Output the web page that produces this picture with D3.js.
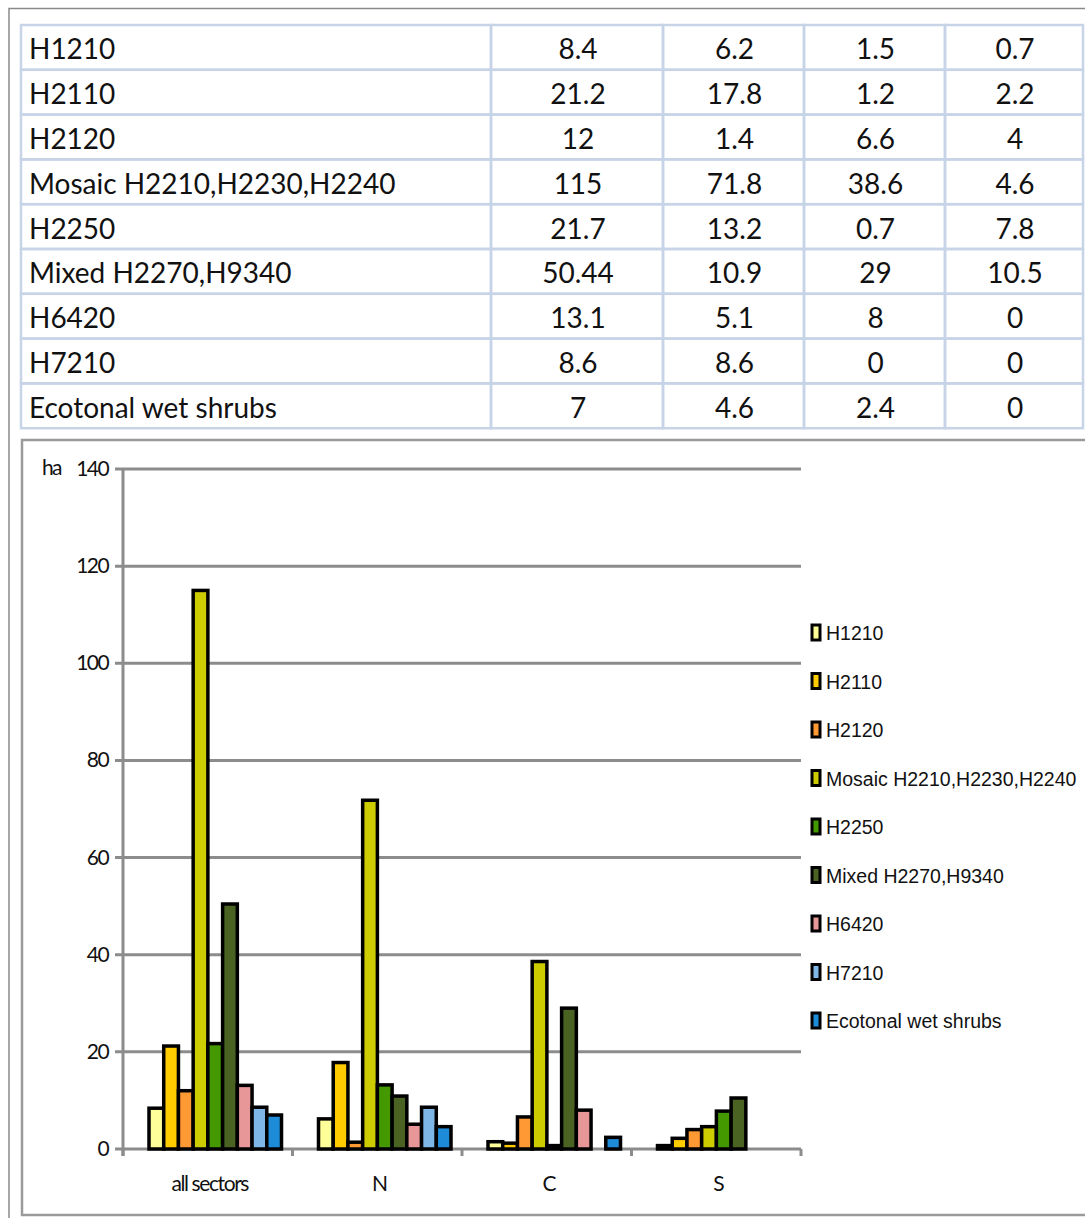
<!DOCTYPE html>
<html>
<head>
<meta charset="utf-8">
<script src="https://cdn.jsdelivr.net/npm/d3@7"></script>
<style>
  html, body { margin: 0; padding: 0; background: #fff; }
  svg { display: block; }
</style>
</head>
<body>
<svg id="chart" width="1085" height="1218"></svg>
<script>
// habitat types (rows of the table, series of the chart)
const habitats = [
  "H1210", "H2110", "H2120", "Mosaic H2210,H2230,H2240", "H2250",
  "Mixed H2270,H9340", "H6420", "H7210", "Ecotonal wet shrubs"
];
const sectors = ["all sectors", "N", "C", "S"];

// surface in ha per sector
const allSectorsValues = [8.4, 21.2, 12, 115, 21.7, 50.44, 13.1, 8.6, 7];
const northValues = [6.2, 17.8, 1.4, 71.8, 13.2, 10.9, 5.1, 8.6, 4.6];
const centreValues = [1.5, 1.2, 6.6, 38.6, 0.7, 29, 8, 0, 2.4];
const southValues = [0.7, 2.2, 4, 4.6, 7.8, 10.5, 0, 0, 0];

const yTicks = [0, 20, 40, 60, 80, 100, 120, 140];

const habitatColors = [
  "#ffff99", "#ffcc00", "#ff9933", "#cccc00", "#449900",
  "#4a6322", "#e89799", "#7fb6e8", "#1e8bd9"
];

const sectorValues = [allSectorsValues, northValues, centreValues, southValues];

const svg = d3.select("#chart");

// outer frame
svg.append("path")
  .attr("d", "M9,1218 V8.5 H1085")
  .attr("fill", "none")
  .attr("stroke", "#8a8a8a")
  .attr("stroke-width", 1.5);

// ---------- table ----------
const colEdges = [21, 491, 663, 804, 945, 1083];
const rowTop = 25, rowH = 44.8;
const table = svg.append("g");

const tableRows = habitats.map((h, i) => [h].concat(sectorValues.map(s => String(s[i]))));

// cell borders
const border = "#c7d4e8";
tableRows.forEach((row, r) => {
  row.forEach((cell, c) => {
    table.append("rect")
      .attr("x", colEdges[c])
      .attr("y", rowTop + r * rowH)
      .attr("width", colEdges[c + 1] - colEdges[c])
      .attr("height", rowH)
      .attr("fill", "none")
      .attr("stroke", border)
      .attr("stroke-width", 2.5);
  });
});

tableRows.forEach((row, r) => {
  row.forEach((cell, c) => {
    table.append("text")
      .attr("x", c === 0 ? colEdges[0] + 8 : (colEdges[c] + colEdges[c + 1]) / 2 + 1)
      .attr("y", rowTop + r * rowH + rowH / 2 + 12)
      .attr("text-anchor", c === 0 ? "start" : "middle")
      .attr("font-family", "Lato, 'Open Sans', sans-serif")
      .attr("font-size", "28px")
      .attr("fill", "#111")
      .text(cell);
  });
});

// ---------- chart ----------
svg.append("rect")
  .attr("x", 22)
  .attr("y", 440)
  .attr("width", 1100)
  .attr("height", 775)
  .attr("fill", "none")
  .attr("stroke", "#9a9a9a")
  .attr("stroke-width", 2.5);

const plot = { left: 123, right: 801, top: 469, bottom: 1149 };

const y = d3.scaleLinear().domain([0, 140]).range([plot.bottom, plot.top]);

const x0 = d3.scaleBand()
  .domain(sectors)
  .range([plot.left, plot.right])
  .padding(0);

const x1 = d3.scaleBand()
  .domain(habitats)
  .range([26, x0.bandwidth() - 11])
  .padding(0);

const chartFont = "Lato, 'Liberation Sans Narrow', sans-serif";
const gridColor = "#8c8c8c";

// gridlines
svg.append("g")
  .selectAll("line")
  .data(yTicks)
  .enter().append("line")
  .attr("x1", plot.left - 8)
  .attr("x2", plot.right)
  .attr("y1", d => y(d))
  .attr("y2", d => y(d))
  .attr("stroke", gridColor)
  .attr("stroke-width", 3);

// y tick labels
svg.append("g")
  .selectAll("text")
  .data(yTicks)
  .enter().append("text")
  .attr("x", 108)
  .attr("y", d => y(d) + 7)
  .attr("text-anchor", "end")
  .attr("font-family", chartFont)
  .attr("font-size", "21px")
  .attr("letter-spacing", "-1.6px")
  .attr("fill", "#111")
  .text(d => d);

svg.append("text")
  .attr("x", 42)
  .attr("y", y(140) + 6)
  .attr("font-family", chartFont)
  .attr("font-size", "21px")
  .attr("letter-spacing", "-1.8px")
  .attr("fill", "#111")
  .text("ha");

// y axis line
svg.append("line")
  .attr("x1", plot.left).attr("x2", plot.left)
  .attr("y1", plot.top).attr("y2", plot.bottom + 7)
  .attr("stroke", gridColor)
  .attr("stroke-width", 3);

// x tick marks at category boundaries
const boundaries = sectors.map(s => x0(s)).concat([plot.right]);
svg.append("g")
  .selectAll("line")
  .data(boundaries)
  .enter().append("line")
  .attr("x1", d => d).attr("x2", d => d)
  .attr("y1", plot.bottom).attr("y2", plot.bottom + 7)
  .attr("stroke", gridColor)
  .attr("stroke-width", 3);

// bars
const groups = svg.append("g")
  .selectAll("g")
  .data(sectors)
  .enter().append("g")
  .attr("transform", d => `translate(${x0(d)},0)`);

groups.selectAll("rect")
  .data((d, i) => sectorValues[i].map((v, j) => ({ habitat: habitats[j], value: v, color: habitatColors[j] })).filter(b => b.value > 0))
  .enter().append("rect")
  .attr("x", d => x1(d.habitat))
  .attr("y", d => y(d.value))
  .attr("width", x1.bandwidth())
  .attr("height", d => y(0) - y(d.value))
  .attr("fill", d => d.color)
  .attr("stroke", "#000")
  .attr("stroke-width", 3.5);

// x labels
svg.append("g")
  .selectAll("text")
  .data(sectors)
  .enter().append("text")
  .attr("x", d => x0(d) + x0.bandwidth() / 2 + 2)
  .attr("y", 1191)
  .attr("text-anchor", "middle")
  .attr("font-family", chartFont)
  .attr("font-size", "21px")
  .attr("letter-spacing", "-1.4px")
  .attr("fill", "#111")
  .text(d => d);

// legend
const legendY = d3.scaleLinear().domain([0, habitats.length - 1]).range([633, 1021]);
const legend = svg.append("g")
  .selectAll("g")
  .data(habitats)
  .enter().append("g")
  .attr("transform", (d, i) => `translate(812,${legendY(i)})`);

legend.append("rect")
  .attr("x", 0)
  .attr("y", -8)
  .attr("width", 8)
  .attr("height", 15)
  .attr("fill", (d, i) => habitatColors[i])
  .attr("stroke", "#000")
  .attr("stroke-width", 3);

legend.append("text")
  .attr("x", 14)
  .attr("y", 7)
  .attr("font-family", "'Liberation Sans', Arial, sans-serif")
  .attr("font-size", "19.5px")
  .attr("fill", "#111")
  .text(d => d);
</script>
</body>
</html>
